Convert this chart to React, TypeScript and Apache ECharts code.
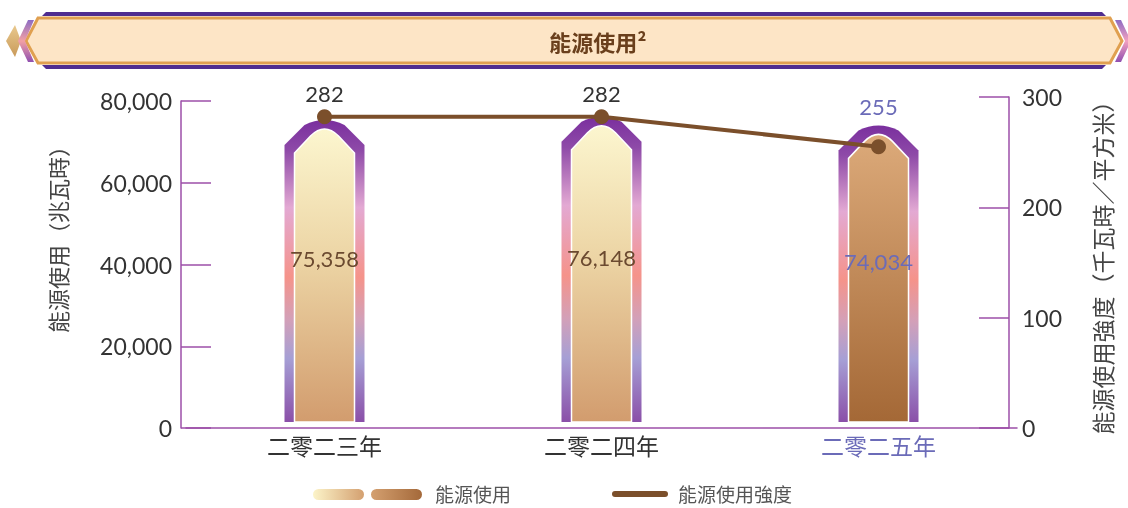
import React, { useEffect, useRef } from "react";
import * as echarts from "echarts";

const categories = ["二零二三年", "二零二四年", "二零二五年"];
const energyUse = [75358, 76148, 74034];
const intensity = [282, 282, 255];
const leftTicks = { min: 0, max: 80000, interval: 20000 };
const rightTicks = { min: 0, max: 300, interval: 100 };
const title = "能源使用²";
const leftName = "能源使用（兆瓦時）";
const rightName = "能源使用強度（千瓦時／平方米）";
const legendBar = "能源使用";
const legendLine = "能源使用強度";

const FONT = "Lato, 'Noto Sans CJK TC', sans-serif";
const CJK = "'Noto Sans CJK TC', sans-serif";
const AXIS = "#9c4fa8";
const BROWN = "#7b4f2b";
const HILITE = "#6b6bb8";

const fmt = (v: number) => v.toLocaleString("en-US");

export default function App() {
  const ref = useRef<HTMLDivElement>(null);
  useEffect(() => {
    if (!ref.current) return;
    const chart = echarts.init(ref.current, null, { renderer: "svg" });
    const LG = echarts.graphic.LinearGradient;

    const outerGrad = () =>
      new LG(0, 0, 0, 1, [
        { offset: 0, color: "#7a2f9e" },
        { offset: 0.1, color: "#8e4aa8" },
        { offset: 0.29, color: "#e3a9d3" },
        { offset: 0.52, color: "#f5938a" },
        { offset: 0.66, color: "#d3a0b8" },
        { offset: 0.79, color: "#a69fd5" },
        { offset: 1, color: "#8a4fa8" },
      ]);
    const innerGrad = (i: number) =>
      i === 2
        ? new LG(0, 0, 0, 1, [
            { offset: 0, color: "#dcaa7a" },
            { offset: 1, color: "#a46836" },
          ])
        : new LG(0, 0, 0, 1, [
            { offset: 0, color: "#fcf6cf" },
            { offset: 0.45, color: "#ecd4a4" },
            { offset: 1, color: "#d29c6e" },
          ]);

    const renderBar = (params: any, api: any) => {
      const idx = api.value(0);
      const v = api.value(1);
      const [cx, ty] = api.coord([idx, v]);
      const by = api.coord([idx, 0])[1] - 6;
      const outer = `M${cx - 40} ${by} L${cx - 40} ${ty + 25} L${cx - 20} ${ty + 5} Q${cx} ${ty - 5} ${cx + 20} ${ty + 5} L${cx + 40} ${ty + 25} L${cx + 40} ${by} Z`;
      const inner = `M${cx - 30} ${by} L${cx - 30} ${ty + 33} L${cx - 14} ${ty + 16} Q${cx} ${ty + 2} ${cx + 14} ${ty + 16} L${cx + 30} ${ty + 33} L${cx + 30} ${by} Z`;
      const i = params.dataIndex;
      return {
        type: "group",
        children: [
          { type: "path", shape: { pathData: outer }, style: { fill: outerGrad() } },
          {
            type: "path",
            shape: { pathData: inner },
            style: { fill: innerGrad(i), stroke: "#ffffff", lineWidth: 1.5 },
          },
          {
            type: "text",
            x: cx,
            y: (ty + by) / 2 - 12,
            style: {
              text: fmt(v),
              fill: i === 2 ? HILITE : "#6b4a30",
              fontSize: 22,
              fontFamily: FONT,
              align: "center",
              verticalAlign: "middle",
            },
          },
        ],
      };
    };

    const catData = categories.map((c, i) =>
      i === 2 ? { value: c, textStyle: { color: HILITE } } : c
    );

    const option: any = {
      animation: false,
      grid: [
        { left: 186, right: 111, top: 101, bottom: 80 },
        { left: 186, right: 111, top: 97, bottom: 80 },
      ],
      xAxis: [
        {
          type: "category",
          gridIndex: 0,
          data: catData,
          axisLine: { lineStyle: { color: AXIS, width: 1.5 } },
          axisTick: { show: false },
          axisLabel: { fontSize: 23, color: "#333", fontFamily: CJK, margin: 5 },
        },
        { type: "category", gridIndex: 1, data: categories, show: false },
      ],
      yAxis: [
        {
          type: "value",
          gridIndex: 0,
          position: "left",
          offset: 5,
          min: leftTicks.min,
          max: leftTicks.max,
          interval: leftTicks.interval,
          axisLine: { show: true, lineStyle: { color: AXIS, width: 1.5 } },
          axisTick: { show: true, inside: true, length: 30, lineStyle: { color: AXIS, width: 1.5 } },
          splitLine: { show: false },
          axisLabel: { fontSize: 23, color: "#333", fontFamily: FONT, margin: 9, formatter: (v: number) => fmt(v) },
        },
        {
          type: "value",
          gridIndex: 1,
          position: "right",
          offset: -8,
          min: rightTicks.min,
          max: rightTicks.max,
          interval: rightTicks.interval,
          axisLine: { show: true, lineStyle: { color: AXIS, width: 1.5 } },
          axisTick: { show: true, inside: true, length: 30, lineStyle: { color: AXIS, width: 1.5 } },
          splitLine: { show: false },
          axisLabel: { fontSize: 23, color: "#333", fontFamily: FONT, margin: 13 },
        },
      ],
      series: [
        {
          type: "custom",
          name: legendBar,
          xAxisIndex: 0,
          yAxisIndex: 0,
          renderItem: renderBar,
          encode: { x: 0, y: 1 },
          data: energyUse.map((v, i) => [i, v]),
          z: 2,
        },
        {
          type: "line",
          name: legendLine,
          xAxisIndex: 1,
          yAxisIndex: 1,
          z: 5,
          symbol: "circle",
          symbolSize: 15,
          lineStyle: { color: BROWN, width: 4 },
          itemStyle: { color: BROWN },
          label: { show: true, position: "top", fontSize: 22, fontFamily: FONT, color: "#333", distance: 5 },
          data: intensity.map((v, i) =>
            i === 2 ? { value: v, label: { color: HILITE, distance: 22 } } : v
          ),
        },
      ],
      graphic: [
        { type: "polygon", shape: { points: [[46, 12], [1102, 12], [1106, 16], [42, 16]] }, style: { fill: "#4f2d90" } },
        { type: "polygon", shape: { points: [[42, 65], [1106, 65], [1102, 69], [46, 69]] }, style: { fill: "#4f2d90" } },
        {
          type: "polygon",
          shape: { points: [[38, 18], [1110, 18], [1122, 41], [1110, 63], [38, 63], [26, 41]] },
          style: { fill: "#fde5c6", stroke: "#e0a050", lineWidth: 3 },
        },
        {
          type: "polygon",
          shape: { points: [[6, 41], [15, 25], [21, 41], [15, 57]] },
          style: {
            fill: new LG(0, 0, 0, 1, [
              { offset: 0, color: "#e9c98e" },
              { offset: 1, color: "#c99a5a" },
            ]),
          },
        },
        {
          type: "polygon",
          shape: { points: [[28, 20], [34, 20], [25, 41], [34, 62], [28, 62], [18, 41]] },
          style: {
            fill: new LG(0, 0, 0, 1, [
              { offset: 0, color: "#8d6cc4" },
              { offset: 0.5, color: "#f2a0a4" },
              { offset: 1, color: "#9050b0" },
            ]),
          },
        },
        {
          type: "polygon",
          shape: { points: [[1115, 20], [1121, 20], [1131, 41], [1121, 62], [1115, 62], [1125, 41]] },
          style: {
            fill: new LG(0, 0, 0, 1, [
              { offset: 0, color: "#8d6cc4" },
              { offset: 0.5, color: "#f2a0c0" },
              { offset: 1, color: "#9050b0" },
            ]),
          },
        },
        {
          type: "text",
          x: 598,
          y: 41,
          style: {
            text: title,
            fill: "#6a3f1c",
            fontSize: 22,
            fontWeight: "bold",
            fontFamily: CJK,
            align: "center",
            verticalAlign: "middle",
          },
        },
        {
          type: "text",
          x: 57,
          y: 234,
          rotation: Math.PI / 2,
          style: { text: leftName, fill: "#444", fontSize: 22, fontFamily: CJK, align: "center", verticalAlign: "middle" },
        },
        {
          type: "text",
          x: 1102,
          y: 262,
          rotation: Math.PI / 2,
          style: { text: rightName, fill: "#444", fontSize: 23, fontFamily: CJK, align: "center", verticalAlign: "middle" },
        },
        {
          type: "rect",
          shape: { x: 313, y: 489, width: 51, height: 11, r: 5.5 },
          style: {
            fill: new LG(0, 0, 1, 0, [
              { offset: 0, color: "#fcf4c9" },
              { offset: 1, color: "#d4a070" },
            ]),
          },
        },
        {
          type: "rect",
          shape: { x: 371, y: 489, width: 51, height: 11, r: 5.5 },
          style: {
            fill: new LG(0, 0, 1, 0, [
              { offset: 0, color: "#d4a070" },
              { offset: 1, color: "#a4693a" },
            ]),
          },
        },
        {
          type: "text",
          x: 435,
          y: 493,
          style: { text: legendBar, fill: "#555", fontSize: 19, lineHeight: 19, fontFamily: CJK, align: "left", verticalAlign: "middle" },
        },
        { type: "rect", shape: { x: 612, y: 491, width: 56, height: 6, r: 3 }, style: { fill: BROWN } },
        {
          type: "text",
          x: 678,
          y: 493,
          style: { text: legendLine, fill: "#555", fontSize: 19, lineHeight: 19, fontFamily: CJK, align: "left", verticalAlign: "middle" },
        },
      ],
    };
    chart.setOption(option);
    return () => chart.dispose();
  }, []);
  return <div ref={ref} style={{ position: "fixed", left: 0, top: 0, width: 1128, height: 508 }} />;
}
